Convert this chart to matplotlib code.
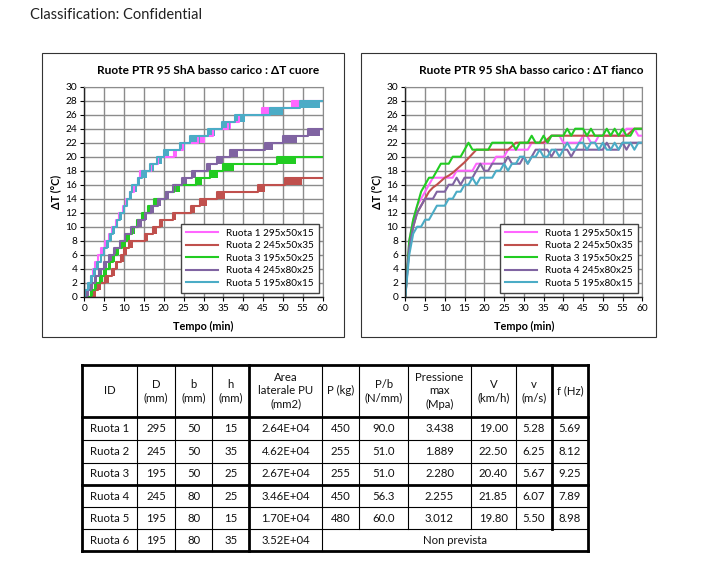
import numpy as np
import matplotlib
matplotlib.use('Agg')
import matplotlib.pyplot as plt
from matplotlib.patches import Rectangle

plt.rcParams['font.family'] = ['Lato', 'DejaVu Sans']

# ---------------- data: left chart (step transitions, start/end in min) ----------------
names = ['Ruota 1 295x50x15', 'Ruota 2 245x50x35', 'Ruota 3 195x50x25',
         'Ruota 4 245x80x25', 'Ruota 5 195x80x15']
colors = ['#FF66FF', '#C0504D', '#22CC22', '#8064A2', '#4BACC6']

cuore_start = [
    [0.2, 0.9, 1.6, 2.2, 2.8, 3.4, 4.3, 5.2, 6.1, 7.0, 7.9, 8.8, 9.7, 10.6, 11.6, 12.6, 13.6, 14.1,
     16.9, 18.5, 22.6, 24.8, 28.5, 32.3, 36.2, 39.0, 44.6, 52.2],
    [2.5, 3.5, 5.3, 7.0, 8.0, 9.2, 10.1, 11.3, 15.3, 17.4, 19.1, 22.4, 26.8, 29.1, 33.3, 43.8, 50.5],
    [1.8, 2.8, 4.0, 5.0, 6.2, 7.2, 8.2, 9.6, 10.8, 12.0, 13.2, 14.6, 16.0, 17.6, 20.5, 22.6, 28.0,
     31.6, 35.0, 48.6],
    [0.8, 1.6, 2.6, 3.8, 5.0, 6.3, 7.6, 8.9, 10.3, 11.8, 13.6, 15.2, 16.8, 18.5, 20.5, 22.4, 24.5,
     27.0, 31.0, 33.3, 36.7, 45.5, 50.0, 56.3],
    [0.3, 1.0, 1.7, 2.5, 3.3, 4.1, 4.9, 5.7, 6.5, 7.3, 8.2, 9.0, 9.9, 10.7, 11.5, 12.0, 13.4, 14.5,
     16.6, 18.3, 20.0, 24.2, 26.7, 31.2, 34.6, 37.9, 46.7, 54.3],
]
cuore_end = [
    [0.5, 1.2, 1.9, 2.5, 3.1, 3.8, 4.7, 5.6, 6.5, 7.4, 8.3, 9.2, 10.1, 11.0, 12.0, 13.0, 14.1, 15.0,
     17.5, 19.2, 23.3, 25.4, 30.4, 33.0, 37.0, 40.0, 46.7, 54.3],
    [3.0, 4.2, 6.3, 7.8, 8.6, 9.9, 10.8, 12.3, 16.1, 18.2, 19.9, 23.2, 27.8, 30.8, 35.4, 45.5, 54.7],
    [2.4, 3.4, 4.6, 5.6, 6.8, 7.8, 8.8, 10.6, 11.4, 12.8, 14.0, 15.4, 16.6, 18.6, 21.3, 24.0, 29.5,
     33.7, 37.8, 53.2],
    [1.3, 2.2, 3.2, 4.5, 5.6, 7.0, 8.2, 9.5, 10.9, 12.4, 14.4, 15.8, 17.6, 19.2, 21.2, 23.2, 25.8,
     28.0, 32.0, 34.9, 38.7, 47.6, 53.5, 59.3],
    [0.8, 1.4, 2.1, 2.9, 3.7, 4.5, 5.3, 6.1, 6.9, 7.7, 8.6, 9.4, 10.3, 11.1, 11.9, 13.3, 14.0, 15.8,
     17.5, 19.5, 21.2, 25.4, 29.0, 32.9, 36.7, 40.4, 50.1, 59.3],
]

# ---------------- data: right chart (one reading per minute) ----------------
minutes = list(range(61))
fianco = [
    [0, 8, 11, 13, 14, 15, 16, 17, 17, 17, 17, 17, 17, 18, 18, 18, 18, 18, 19, 19, 19, 19, 19, 20, 20,
     20, 21, 21, 21, 21, 21, 21, 22, 22, 22, 22, 22, 23, 23, 23, 22, 22, 22, 22, 22, 23, 23, 22, 22, 23,
     23, 23, 23, 23, 23, 23, 24, 24, 24, 23, 23],
    [0, 7, 10, 12, 13, 14, 15, 15.6, 16, 16.5, 17, 17.3, 17.7, 18.2, 18.7, 19.2, 19.8, 20.4, 21, 21, 21,
     21, 21, 21, 21, 21, 21, 21.5, 22, 22, 22, 22, 22, 22, 22, 22, 22.5, 23, 23, 23, 23, 23, 23, 23, 23,
     23, 23, 23, 23, 23, 23, 23, 23, 23, 23, 23, 23, 23.5, 24, 24, 24],
    [0, 8, 11, 13, 15, 16, 17, 17, 18, 19, 19, 19, 20, 20, 20, 21, 22, 21, 21, 21, 21, 21, 22, 22, 22,
     22, 22, 22, 21, 22, 22, 22, 23, 22, 22, 23, 22, 23, 23, 23, 23, 24, 23, 24, 24, 24, 23, 24, 23, 23,
     23, 24, 23, 24, 23, 24, 23, 23, 24, 24, 24],
    [0, 7, 10, 12, 13, 14, 14, 14, 15, 15, 15, 16, 16, 17, 16, 17, 17, 17, 18, 19, 18, 18, 19, 19, 19,
     19, 20, 19, 19, 19, 20, 19, 20, 21, 21, 21, 21, 20, 21, 21, 21, 21, 20, 21, 21, 21, 21, 21, 21, 21,
     21, 22, 21, 21, 21, 22, 21, 22, 22, 22, 22],
    [0, 6, 9, 10, 10, 11, 11, 12, 13, 13, 13, 14, 14, 15, 15, 16, 16, 17, 16, 17, 17, 17, 17, 18, 18,
     19, 18, 19, 19, 20, 20, 19, 20, 20, 21, 20, 20, 21, 21, 20, 21, 22, 21, 21, 22, 22, 21, 22, 22, 21,
     22, 21, 21, 22, 21, 22, 22, 22, 21, 22, 22],
]

titles = ['Ruote PTR 95 ShA basso carico : ΔT cuore', 'Ruote PTR 95 ShA basso carico : ΔT fianco']

# ---------------- data: table ----------------
header = ['ID', 'D\n(mm)', 'b\n(mm)', 'h\n(mm)', 'Area\nlaterale PU\n(mm2)', 'P (kg)',
          'P/b\n(N/mm)', 'Pressione\nmax\n(Mpa)', 'V\n(km/h)', 'v\n(m/s)', 'f (Hz)']
rows = [
    ['Ruota 1', '295', '50', '15', '2.64E+04', '450', '90.0', '3.438', '19.00', '5.28', '5.69'],
    ['Ruota 2', '245', '50', '35', '4.62E+04', '255', '51.0', '1.889', '22.50', '6.25', '8.12'],
    ['Ruota 3', '195', '50', '25', '2.67E+04', '255', '51.0', '2.280', '20.40', '5.67', '9.25'],
    ['Ruota 4', '245', '80', '25', '3.46E+04', '450', '56.3', '2.255', '21.85', '6.07', '7.89'],
    ['Ruota 5', '195', '80', '15', '1.70E+04', '480', '60.0', '3.012', '19.80', '5.50', '8.98'],
]
last_row = ['Ruota 6', '195', '80', '35', '3.52E+04']
last_note = 'Non prevista'

# ---------------- figure ----------------
W, H = 712, 576
fig = plt.figure(figsize=(W / 100, H / 100), dpi=100)
ov = fig.add_axes([0, 0, 1, 1])
ov.set_xlim(0, W)
ov.set_ylim(H, 0)
ov.axis('off')

ov.text(30, 15, 'Classification: Confidential', fontsize=10.5, va='center', ha='left', color='#222222')

# chart frames
for x0, x1 in [(41.5, 343.5), (361, 656)]:
    ov.add_patch(Rectangle((x0, 53), x1 - x0, 284, fill=False, ec='#333333', lw=0.8))

grid_c = '#8c8c8c'


def setup(ax, title, tcx):
    ax.set_xlim(0, 60)
    ax.set_ylim(0, 30)
    ax.set_xticks(np.arange(0, 61, 5))
    ax.set_yticks(np.arange(0, 31, 2))
    ax.grid(True, color=grid_c, lw=1)
    ax.set_axisbelow(True)
    ax.tick_params(labelsize=7.3, length=3, width=0.8, pad=2)
    for s in ['top', 'right']:
        ax.spines[s].set_color(grid_c)
    for s in ['left', 'bottom']:
        ax.spines[s].set_color('#222222')
        ax.spines[s].set_linewidth(1)
    ax.set_xlabel('Tempo (min)', fontsize=7.8, fontweight='bold', labelpad=6)
    ax.set_ylabel('ΔT (°C)', fontsize=7.8, fontweight='bold', labelpad=3)
    ov.text(tcx, 70.5, title, fontsize=8.6, fontweight='bold', ha='center', va='center')
    ax.legend(loc='lower right', fontsize=7.2, frameon=True, fancybox=False, edgecolor='#444444',
              framealpha=1, handlelength=3.2, borderaxespad=0.4, labelspacing=0.35,
              borderpad=0.5)


# left: cuore
axl = fig.add_axes([84.3 / W, 1 - 296.7 / H, 238.4 / W, 210 / H])
for st, en, c, n in zip(cuore_start, cuore_end, colors, names):
    st = np.array(st)
    en = np.array(en)
    lv = np.arange(len(st) + 1)
    axl.step(np.r_[0, st, 60], np.r_[lv, lv[-1]], where='post', color=c, lw=1.5, label=n)
    axl.bar(st, 1, width=en - st, bottom=lv[:-1], align='edge', color=c, lw=0)
setup(axl, titles[0], 208)

# right: fianco
axr = fig.add_axes([405.3 / W, 1 - 296.7 / H, 237 / W, 210 / H])
for vals, c, n in zip(fianco, colors, names):
    axr.plot(minutes, vals, color=c, lw=1.5, label=n)
setup(axr, titles[1], 531)

# ---------------- table ----------------
cx = [81.7, 137.3, 175, 212.3, 249.3, 322.3, 359.3, 408.3, 470.7, 516, 551.7, 588.3]
ry = [365, 416.7, 440, 462.7, 485, 507, 529.3, 551]
thin, thick = 0.8, 2.0
tfs = 8.2

# horizontal lines
for i, y in enumerate(ry):
    lw = thick if i in (0, 1, 4, len(ry) - 1) else thin
    ov.plot([cx[0], cx[-1]], [y, y], color='black', lw=lw, solid_capstyle='projecting')
# vertical lines
for j, x in enumerate(cx):
    lw = thick if j in (0, 4, 10, len(cx) - 1) else thin
    y_end = ry[-2] if 6 <= j <= 10 else ry[-1]
    ov.plot([x, x], [ry[0], y_end], color='black', lw=lw, solid_capstyle='projecting')

for j, h in enumerate(header):
    ov.text((cx[j] + cx[j + 1]) / 2, (ry[0] + ry[1]) / 2, h, fontsize=tfs, ha='center',
            va='center', linespacing=1.25, color='#111111')
for i, r in enumerate(rows):
    yc = (ry[i + 1] + ry[i + 2]) / 2
    for j, v in enumerate(r):
        ov.text((cx[j] + cx[j + 1]) / 2, yc, v, fontsize=tfs, ha='center', va='center', color='#111111')
yc = (ry[-2] + ry[-1]) / 2
for j, v in enumerate(last_row):
    ov.text((cx[j] + cx[j + 1]) / 2, yc, v, fontsize=tfs, ha='center', va='center', color='#111111')
ov.text((cx[5] + cx[-1]) / 2, yc, last_note, fontsize=tfs, ha='center', va='center', color='#111111')

fig.savefig('out.png', dpi=100)
